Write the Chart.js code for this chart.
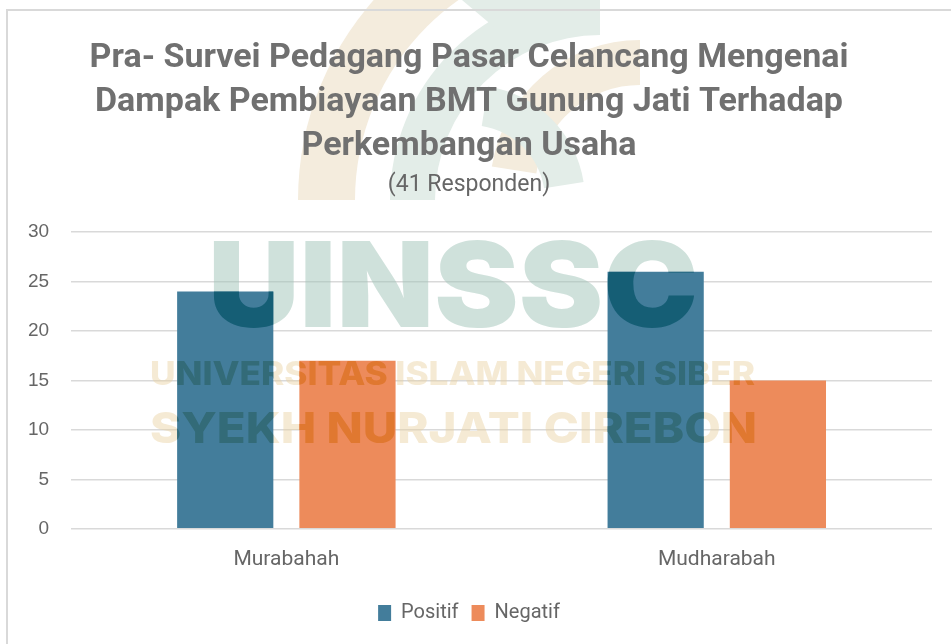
<!DOCTYPE html>
<html>
<head>
<meta charset="utf-8">
<script src="https://cdn.jsdelivr.net/npm/chart.js@4/dist/chart.umd.min.js"></script>
<style>
html,body{margin:0;padding:0;background:#fff;}
#wrap{position:relative;width:951px;height:644px;}
canvas{display:block;}
</style>
</head>
<body>
<div id="wrap"><canvas id="c" width="951" height="644"></canvas></div>
<script>
const categories = ["Murabahah", "Mudharabah"];
const seriesNames = ["Positif", "Negatif"];
const positif = [24, 26];
const negatif = [17, 15];
const titleLines = ["Pra- Survei Pedagang Pasar Celancang Mengenai", "Dampak Pembiayaan BMT Gunung Jati Terhadap", "Perkembangan Usaha"];
const subtitleText = "(41 Responden)";
const watermarkLines = ["UINSSC", "UNIVERSITAS ISLAM NEGERI SIBER", "SYEKH NURJATI CIREBON"];

const FONT = "Roboto, 'DejaVu Sans Condensed', sans-serif";
const NUMFONT = "'Liberation Sans', Arial, sans-serif";
const BLUE = '#437d9b', ORANGE = '#ed8b5b';

function band(ctx, cx, cy, r0, r1, a0, a1, col) {
  ctx.beginPath();
  ctx.arc(cx, cy, r1, a0, a1);
  ctx.arc(cx, cy, r0, a1, a0, true);
  ctx.closePath();
  ctx.fillStyle = col;
  ctx.fill();
}

const borderPlugin = {
  id: 'cardBorder',
  beforeDraw(chart) {
    const ctx = chart.ctx;
    ctx.save();
    ctx.fillStyle = '#fff';
    ctx.fillRect(0, 0, chart.width, chart.height);
    const beige = '#f4ecdd', teal = '#e3ede8';
    band(ctx, 600, 200, 245, 302, Math.PI, Math.PI * 1.5, beige);
    band(ctx, 600, 200, 165, 210, Math.PI, Math.PI * 1.5, teal);
    band(ctx, 640, 190, 105, 150, Math.PI * 1.05, Math.PI * 1.5, beige);
    band(ctx, 470, 200, 75, 115, Math.PI * 1.55, Math.PI * 1.95, teal);
    ctx.beginPath();
    ctx.moveTo(462, 0); ctx.lineTo(500, 32); ctx.lineTo(552, 0); ctx.closePath();
    ctx.fillStyle = teal; ctx.fill();
    ctx.strokeStyle = '#d9d9d9';
    ctx.lineWidth = 2;
    ctx.beginPath();
    ctx.moveTo(7, chart.height);
    ctx.lineTo(7, 10);
    ctx.lineTo(chart.width, 10);
    ctx.stroke();
    ctx.restore();
  }
};

function drawWm(ctx, cols) {
  const items = [
    {t: watermarkLines[0], font: "900 118px Inter, 'Open Sans', sans-serif", x: 208, w: 490, base: 327, col: cols[0]},
    {t: watermarkLines[1], font: "800 32px Inter, 'Open Sans', sans-serif", x: 150, w: 605, base: 385, col: cols[1]},
    {t: watermarkLines[2], font: "800 43px Inter, 'Open Sans', sans-serif", x: 150, w: 607, base: 443, col: cols[1]}
  ];
  items.forEach(it => {
    ctx.save();
    ctx.font = it.font;
    ctx.textBaseline = 'alphabetic';
    ctx.textAlign = 'left';
    const m = ctx.measureText(it.t).width;
    ctx.translate(it.x, it.base);
    ctx.scale(it.w / m, 1);
    ctx.fillStyle = it.col;
    ctx.fillText(it.t, 0, 0);
    ctx.restore();
  });
}

const watermarkPlugin = {
  id: 'wm',
  afterDraw(chart) {
    const ctx = chart.ctx;
    const rects = [];
    chart.data.datasets.forEach((ds, di) => {
      const meta = chart.getDatasetMeta(di);
      meta.data.forEach(el => {
        const p = el.getProps(['x', 'y', 'base', 'width'], true);
        rects.push({x: p.x - p.width / 2, y: Math.min(p.y, p.base), w: p.width, h: Math.abs(p.base - p.y), di});
      });
    });
    ctx.save();
    ctx.beginPath();
    ctx.rect(0, 0, chart.width, chart.height);
    rects.forEach(r => ctx.rect(r.x, r.y, r.w, r.h));
    ctx.clip('evenodd');
    drawWm(ctx, ['rgba(160,196,183,0.5)', 'rgba(232,208,160,0.45)']);
    ctx.restore();
    rects.forEach(r => {
      ctx.save();
      ctx.beginPath();
      ctx.rect(r.x, r.y, r.w, r.h);
      ctx.clip();
      if (r.di === 0) drawWm(ctx, ['#155e75', '#336b78']);
      else drawWm(ctx, ['#155e75', '#e07830']);
      ctx.restore();
    });
  }
};

new Chart(document.getElementById('c'), {
  type: 'bar',
  data: {
    labels: categories,
    datasets: [
      {label: seriesNames[0], data: positif, backgroundColor: BLUE, barPercentage: 0.787, categoryPercentage: 0.568},
      {label: seriesNames[1], data: negatif, backgroundColor: ORANGE, barPercentage: 0.787, categoryPercentage: 0.568}
    ]
  },
  options: {
    responsive: false,
    animation: false,
    devicePixelRatio: 1,
    layout: {padding: {left: 6, right: 19, top: 28, bottom: 11}},
    plugins: {
      title: {
        display: true,
        text: titleLines,
        color: '#707070',
        font: {family: FONT, size: 34, weight: 'bold', lineHeight: 1.3},
        padding: {top: 8, bottom: 3}
      },
      subtitle: {
        display: true,
        text: subtitleText,
        color: '#666666',
        font: {family: FONT, size: 23, lineHeight: 1.2},
        padding: {top: 0, bottom: 33}
      },
      legend: {
        position: 'bottom',
        labels: {
          color: '#666666',
          font: {family: FONT, size: 20},
          boxWidth: 13,
          boxHeight: 16,
          padding: 13,
          useBorderRadius: false
        }
      },
      tooltip: {enabled: false}
    },
    scales: {
      x: {
        grid: {display: false, drawTicks: false},
        border: {display: false},
        ticks: {color: '#666666', font: {family: FONT, size: 21}, padding: 18}
      },
      y: {
        min: 0, max: 30,
        ticks: {stepSize: 5, color: '#666666', font: {family: NUMFONT, size: 19}, padding: 22},
        grid: {color: '#d9d9d9', lineWidth: 1.5, drawTicks: false},
        border: {display: false}
      }
    }
  },
  plugins: [borderPlugin, watermarkPlugin]
});
</script>
</body>
</html>
